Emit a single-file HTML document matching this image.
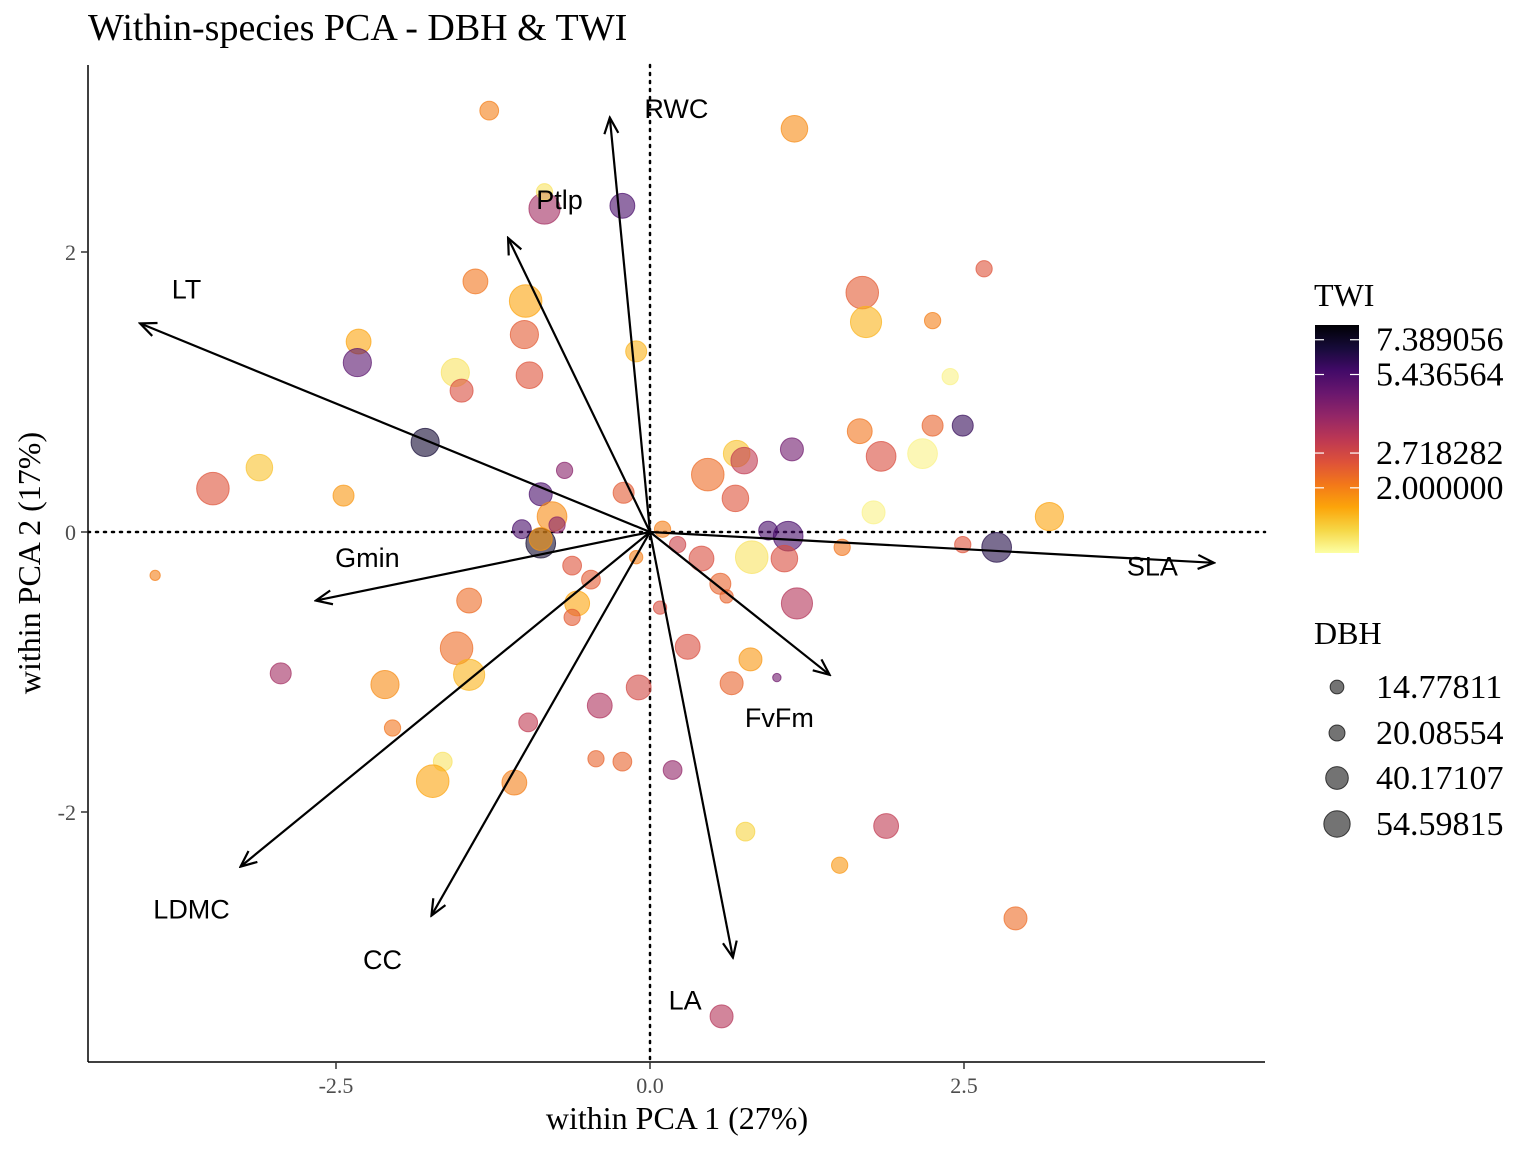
<!DOCTYPE html>
<html><head><meta charset="utf-8"><style>
html,body{margin:0;padding:0;background:#fff}
svg{display:block}
</style></head><body>
<svg id="chart" width="1536" height="1152" viewBox="0 0 1536 1152" xmlns="http://www.w3.org/2000/svg">
<defs>
<marker id="ah" viewBox="0 0 20 20" refX="18" refY="10" markerWidth="20" markerHeight="20" markerUnits="userSpaceOnUse" orient="auto">
<path d="M2,3 L18,10 L2,17" fill="none" stroke="#000" stroke-width="2.2"/>
</marker>
<linearGradient id="cbar" x1="0" y1="0" x2="0" y2="1">
<stop offset="0" stop-color="#000004"/><stop offset="0.1" stop-color="#160b39"/><stop offset="0.2" stop-color="#420a68"/><stop offset="0.3" stop-color="#6a176e"/><stop offset="0.4" stop-color="#932667"/><stop offset="0.5" stop-color="#bc3754"/><stop offset="0.6" stop-color="#dd513a"/><stop offset="0.7" stop-color="#f37819"/><stop offset="0.8" stop-color="#fca50a"/><stop offset="0.9" stop-color="#f6d746"/><stop offset="1" stop-color="#fcffa4"/>
</linearGradient>
</defs>
<text x="88" y="40" font-family="Liberation Serif, serif" font-size="38">Within-species PCA - DBH &amp; TWI</text>
<g id="points"></g>
<g id="arrows"></g>
<line x1="88" y1="65" x2="88" y2="1062" stroke="#000" stroke-width="1.5"/>
<line x1="88" y1="1062" x2="1265" y2="1062" stroke="#000" stroke-width="1.5"/>
<g id="ticks"></g>
<text x="677" y="1129" text-anchor="middle" font-family="Liberation Serif, serif" font-size="32">within PCA 1 (27%)</text>
<text transform="translate(40,563) rotate(-90)" text-anchor="middle" font-family="Liberation Serif, serif" font-size="32">within PCA 2 (17%)</text>
<g>
<text x="1314" y="306" font-family="Liberation Serif, serif" font-size="32">TWI</text>
<rect x="1315" y="325" width="44" height="228" fill="url(#cbar)"/>
<g id="cbticks"></g>
</g>
<g>
<text x="1314" y="644" font-family="Liberation Serif, serif" font-size="32">DBH</text>
<g id="dbhkeys"></g>
</g>
</svg>
<script>
const NS='http://www.w3.org/2000/svg';
// data
const pcX=[-1.28,1.15,-0.84,-0.84,-0.22,2.66,-1.39,1.69,-0.99,2.25,1.72,-1.0,-2.32,-0.11,-2.33,-1.55,-0.96,2.39,-1.50,2.49,2.25,1.67,-1.79,2.17,1.84,0.69,0.75,1.13,0.46,-3.11,-3.48,-0.68,-2.44,-0.21,0.68,-0.87,1.78,3.18,-0.78,-0.74,-1.02,0.94,1.10,2.76,-0.87,-0.87,0.10,0.22,0.41,0.81,1.07,1.53,2.49,-0.11,-0.62,-0.47,0.56,0.61,-1.44,-0.58,1.17,0.08,-0.62,0.30,-1.54,0.80,-1.44,-2.94,1.01,-2.11,0.65,-0.09,-0.40,-0.97,-2.05,-1.65,-0.43,-0.22,0.18,-1.73,-1.08,0.76,1.88,1.51,-3.94,2.91,0.57];
const pcY=[3.01,2.88,2.31,2.43,2.33,1.88,1.79,1.71,1.65,1.51,1.50,1.41,1.36,1.29,1.21,1.14,1.12,1.11,1.01,0.76,0.76,0.72,0.64,0.56,0.54,0.56,0.51,0.59,0.41,0.46,0.31,0.44,0.26,0.28,0.24,0.27,0.14,0.11,0.11,0.05,0.02,0.01,-0.03,-0.11,-0.08,-0.05,0.02,-0.09,-0.19,-0.18,-0.19,-0.11,-0.09,-0.18,-0.24,-0.34,-0.37,-0.46,-0.49,-0.51,-0.51,-0.54,-0.61,-0.82,-0.83,-0.91,-1.02,-1.01,-1.04,-1.09,-1.08,-1.11,-1.24,-1.36,-1.40,-1.64,-1.62,-1.64,-1.70,-1.78,-1.79,-2.14,-2.10,-2.38,-0.31,-2.76,-3.46];
const dbh=[20,40,55,15,35,15,35,60,60,15,55,45,35,25,45,45,40,15,30,25,25,35,45,50,50,40,40,30,60,40,60,15,25,25,40,30,30,45,50,15,20,20,50,50,50,30,15,15,35,60,40,15,15,10,20,20,25,10,35,35,55,10,15,35,60,30,55,25,4,45,30,35,35,20,15,20,15,20,20,60,35,20,35,15,6,30,30];
const twi=[2.0,1.9,3.5,1.3,5.5,2.5,2.1,2.4,1.7,2.0,1.6,2.4,1.7,1.6,5.0,1.3,2.5,1.2,2.6,6.0,2.3,2.1,7.0,1.2,2.6,1.5,3.0,4.5,2.2,1.5,2.5,4.0,1.8,2.4,2.5,5.5,1.2,1.7,1.9,4.0,5.5,5.5,5.5,6.5,7.2,1.8,2.0,2.8,2.6,1.3,2.6,2.1,2.5,2.0,2.5,2.4,2.3,2.3,2.2,1.7,3.2,2.6,2.4,2.6,2.2,1.8,1.6,3.5,4.5,1.9,2.3,2.7,3.3,3.0,2.1,1.3,2.3,2.3,3.8,1.7,2.0,1.4,3.0,1.8,2.0,2.2,3.2];
const vars=['RWC','Ptlp','LT','Gmin','LDMC','CC','LA','FvFm','SLA'];
const loadX=[-0.32,-1.13,-4.06,-2.66,-3.26,-1.74,0.66,1.43,4.49];
const loadY=[2.96,2.10,1.49,-0.49,-2.39,-2.74,-3.04,-1.02,-0.22];
const labX=[0.21,-0.72,-3.69,-2.25,-3.65,-2.13,0.28,1.03,4.0];
const labY=[3.03,2.38,1.74,-0.18,-2.69,-3.05,-3.34,-1.32,-0.24];
const xTicks=[-2.5,0,2.5];const xTickLabels=['-2.5','0.0','2.5'];
const yTicks=[-2,0,2];const yTickLabels=['-2','0','2'];
const cbVals=[7.389056,5.436564,2.718282,2.000000];const cbLabels=['7.389056','5.436564','2.718282','2.000000'];
const dbhVals=[14.77811,20.08554,40.17107,54.59815];const dbhLabels=['14.77811','20.08554','40.17107','54.59815'];

const sx=v=>650+v*125.6, sy=v=>532-v*140;
const rS=d=>2.1*Math.sqrt(d);
const lnMin=0.118,lnMax=2.13;
const cbY=v=>325+228*(lnMax-Math.log(v))/(lnMax-lnMin);
const stops=['#000004','#160b39','#420a68','#6a176e','#932667','#bc3754','#dd513a','#f37819','#fca50a','#f6d746','#fcffa4'];
function hex(h){return [1,3,5].map(i=>parseInt(h.substr(i,2),16));}
function inferno(t){t=Math.max(0,Math.min(1,t));const p=t*10,i=Math.min(9,Math.floor(p)),f=p-i;const a=hex(stops[i]),b=hex(stops[i+1]);return 'rgb('+a.map((v,k)=>Math.round(v+(b[k]-v)*f)).join(',')+')';}
const col=v=>inferno((lnMax-Math.log(v))/(lnMax-lnMin));
function mk(tag,at,parent){const e=document.createElementNS(NS,tag);for(const k in at)e.setAttribute(k,at[k]);parent.appendChild(e);return e;}

const g0=document.getElementById('points');
let l=mk('line',{x1:sx(0),y1:65,x2:sx(0),y2:1062,stroke:'#000','stroke-width':2.5,'stroke-dasharray':'2,6','stroke-linecap':'round'},g0);


l=mk('line',{x1:88,y1:sy(0),x2:1265,y2:sy(0),stroke:'#000','stroke-width':2.5,'stroke-dasharray':'2,6','stroke-linecap':'round'},g0);


for(let i=0;i<pcX.length;i++){
 const c=mk('circle',{cx:sx(pcX[i]),cy:sy(pcY[i]),r:rS(dbh[i]),fill:col(twi[i]),'fill-opacity':0.6,stroke:col(twi[i]),'stroke-opacity':0.7,'stroke-width':1},g0);
 
 
}
const ga=document.getElementById('arrows');
for(let i=0;i<vars.length;i++){
 const a=mk('line',{x1:sx(0),y1:sy(0),x2:sx(loadX[i]),y2:sy(loadY[i]),stroke:'#000','stroke-width':2.2,'marker-end':'url(#ah)'},ga);
 
 
 const t=mk('text',{x:sx(labX[i]),y:sy(labY[i])+10,'text-anchor':'middle','font-family':'Liberation Sans, sans-serif','font-size':27},ga);
 t.textContent=vars[i];
 
 
}
const gt=document.getElementById('ticks');
xTicks.forEach((v,i)=>{
 mk('line',{x1:sx(v),y1:1062,x2:sx(v),y2:1069,stroke:'#333','stroke-width':1.5},gt);
 const t=mk('text',{x:sx(v),y:1093,'text-anchor':'middle','font-family':'Liberation Serif, serif','font-size':22,fill:'#4d4d4d'},gt);
 t.textContent=xTickLabels[i];
 
 
});
yTicks.forEach((v,i)=>{
 mk('line',{x1:81,y1:sy(v),x2:88,y2:sy(v),stroke:'#333','stroke-width':1.5},gt);
 const t=mk('text',{x:76,y:sy(v)+8,'text-anchor':'end','font-family':'Liberation Serif, serif','font-size':22,fill:'#4d4d4d'},gt);
 t.textContent=yTickLabels[i];
 
 
});
const gc=document.getElementById('cbticks');
cbVals.forEach((v,i)=>{
 const y=cbY(v);
 mk('line',{x1:1315,y1:y,x2:1324,y2:y,stroke:'#fff','stroke-width':1.2},gc);
 mk('line',{x1:1350,y1:y,x2:1359,y2:y,stroke:'#fff','stroke-width':1.2},gc);
 const t=mk('text',{x:1376,y:y+11,'font-family':'Liberation Serif, serif','font-size':34},gc);
 t.textContent=cbLabels[i];
 
 
});
const gd=document.getElementById('dbhkeys');
const keyY=[687,733,778,824];
dbhVals.forEach((v,i)=>{
 const c=mk('circle',{cx:1337,cy:keyY[i],r:rS(v)*0.85,fill:'#000','fill-opacity':0.55,stroke:'#000','stroke-opacity':0.7},gd);
 
 
 const t=mk('text',{x:1376,y:keyY[i]+11,'font-family':'Liberation Serif, serif','font-size':34},gd);
 t.textContent=dbhLabels[i];
 
 
});
</script>
</body></html>
